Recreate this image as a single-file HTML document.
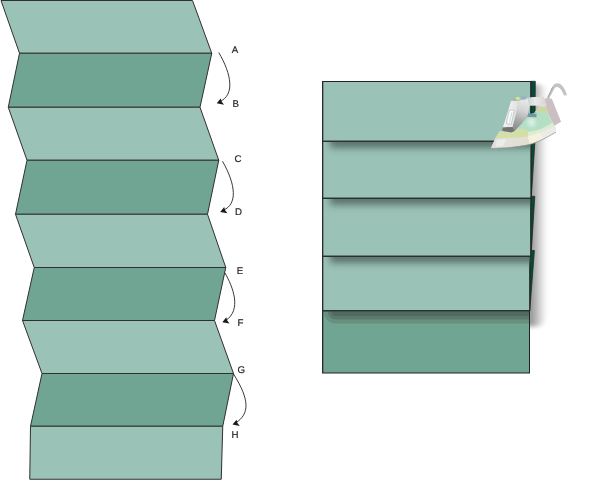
<!DOCTYPE html>
<html><head><meta charset="utf-8">
<style>
html,body{margin:0;padding:0;background:#fff;}
body{width:600px;height:480px;overflow:hidden;font-family:"Liberation Sans",sans-serif;}
svg{display:block;}
text{font-family:"Liberation Sans",sans-serif;font-size:9.7px;fill:#262626;stroke:#262626;stroke-width:0.2px;text-rendering:geometricPrecision;}
</style></head><body>
<svg width="600" height="480" viewBox="0 0 600 480">
<defs>
<linearGradient id="fs" x1="0" y1="0" x2="0" y2="1">
<stop offset="0" stop-color="#4f6b62" stop-opacity="0.85"/>
<stop offset="0.35" stop-color="#5d7f74" stop-opacity="0.55"/>
<stop offset="1" stop-color="#9bc2b7" stop-opacity="0"/>
</linearGradient>
<linearGradient id="fs2" x1="0" y1="0" x2="0" y2="1">
<stop offset="0" stop-color="#4a5f58" stop-opacity="0.9"/>
<stop offset="0.6" stop-color="#55706a" stop-opacity="0.7"/>
<stop offset="1" stop-color="#71a593" stop-opacity="0"/>
</linearGradient>
<linearGradient id="ss" gradientUnits="userSpaceOnUse" x1="531" y1="0" x2="548.5" y2="0">
<stop offset="0" stop-color="#979797"/>
<stop offset="0.25" stop-color="#b4b4b4"/>
<stop offset="0.55" stop-color="#d9d9d9"/>
<stop offset="0.8" stop-color="#f4f4f4"/>
<stop offset="1" stop-color="#ffffff"/>
</linearGradient>
<filter id="blur1" x="-20%" y="-20%" width="140%" height="140%"><feGaussianBlur stdDeviation="1.2"/></filter>
<filter id="blurF" x="-10%" y="-100%" width="120%" height="300%"><feGaussianBlur stdDeviation="3.5"/></filter>
<filter id="blurS" x="-100%" y="-10%" width="300%" height="120%"><feGaussianBlur stdDeviation="2.2"/></filter>
<clipPath id="cp2"><rect x="323.4" y="141.8" width="206.8" height="30"/></clipPath>
<clipPath id="cp3"><rect x="323.4" y="198.8" width="206.8" height="30"/></clipPath>
<clipPath id="cp4"><rect x="323.4" y="256.8" width="206.8" height="30"/></clipPath>
<clipPath id="cp5"><rect x="323.5" y="311.3" width="205.5" height="40"/></clipPath>
<filter id="blurB"><feGaussianBlur stdDeviation="0.5"/></filter>
<radialGradient id="irHi"><stop offset="0" stop-color="#e4f3e6" stop-opacity="1"/><stop offset="0.5" stop-color="#cfeadb" stop-opacity="0.7"/><stop offset="1" stop-color="#b4dfc5" stop-opacity="0"/></radialGradient>
<linearGradient id="irBar" x1="0" y1="0" x2="1" y2="0"><stop offset="0" stop-color="#d0d0d0"/><stop offset="0.4" stop-color="#e9e9e9"/><stop offset="1" stop-color="#d9d3d3"/></linearGradient>
<linearGradient id="irCol" gradientUnits="userSpaceOnUse" x1="250" y1="130" x2="180" y2="330"><stop offset="0" stop-color="#e9e9e9"/><stop offset="0.35" stop-color="#d4d4d4"/><stop offset="0.75" stop-color="#a2a2a2"/><stop offset="1" stop-color="#8c8c8c"/></linearGradient>
<linearGradient id="irFace" gradientUnits="userSpaceOnUse" x1="110" y1="220" x2="200" y2="235"><stop offset="0" stop-color="#f4f4f4"/><stop offset="1" stop-color="#dedede"/></linearGradient>
</defs>

<!-- LEFT ZIGZAG -->
<g stroke="#303030" stroke-width="1" stroke-linejoin="miter">
<polygon points="1,0.5 192.5,0.5 211.75,53.25 19.5,53.25" fill="#9bc2b7"/>
<polygon points="19.5,53.25 211.75,53.25 200,107.25 8.25,107.25" fill="#71a593"/>
<polygon points="8.25,107.25 200,107.25 218.75,160.25 27,160.25" fill="#9bc2b7"/>
<polygon points="27,160.25 218.75,160.25 207.5,214.25 15.5,214.25" fill="#71a593"/>
<polygon points="15.5,214.25 207.5,214.25 225.75,267.5 34.25,267.5" fill="#9bc2b7"/>
<polygon points="34.25,267.5 225.75,267.5 214.5,320.5 22.5,320.5" fill="#71a593"/>
<polygon points="22.5,320.5 214.5,320.5 233.5,373.5 42,373.5" fill="#9bc2b7"/>
<polygon points="42,373.5 233.5,373.5 222.75,426.25 30.5,426.25" fill="#71a593"/>
<polygon points="30.5,426.25 222.75,426.25 221.25,479.25 29.75,479.25" fill="#9bc2b7"/>
</g>

<!-- arrows -->
<g fill="none" stroke="#222" stroke-width="0.9">
<path d="M218.75,52.5 C232,75 234.5,95 220,101.5"/>
<path d="M222.5,161.25 C236,185 237.5,204 223.5,210.2"/>
<path d="M225,273 C233,287 242,310 225.5,320.6"/>
<path d="M233.5,374 C250,400 249.5,414 235.8,422.8"/>
</g>
<g fill="#1a1a1a">
<polygon points="216.7,103.3 220.7,98.4 221.6,101.6 224.0,104.7"/>
<polygon points="220.2,211.9 224.2,207.0 225.1,210.2 227.5,213.3"/>
<polygon points="222.3,322.2 226.3,317.3 227.2,320.5 229.6,323.6"/>
<polygon points="232.5,424.6 236.5,419.7 237.4,422.9 239.8,426.0"/>
</g>
<g id="lbl" style="opacity:.999">
<text x="231.8" y="53.2">A</text>
<text x="232.5" y="107.3">B</text>
<text x="234.5" y="162.3">C</text>
<text x="235" y="214.7">D</text>
<text x="236.7" y="273.6">E</text>
<text x="237.5" y="326">F</text>
<text x="237.5" y="372.7">G</text>
<text x="231.5" y="438.2">H</text>
</g>

<!-- RIGHT STACK -->
<!-- side shadow -->
<g filter="url(#blurS)">
<path d="M527,84.5 H538 C545,85 550.5,91 550.5,101 L550,150 L549,200 L548.5,256 L548,310 C548,320 543,326.5 536,326.5 H527 Z" fill="url(#ss)"/>
</g>
<!-- dark slivers -->
<g fill="#0c4838" stroke="#15251f" stroke-width="0.7" stroke-linejoin="miter">
<polygon points="530.7,81.3 535.3,81.3 534.9,142 531.4,196 530.7,198.5"/>
<polygon points="530.6,196.3 534.8,196.3 531.3,252 530.6,256.5"/>
<polygon points="529.7,250.5 534.4,250.5 530.6,300 529.7,311"/>
</g>
<!-- bottom dark panel -->
<rect x="322.5" y="310.75" width="207" height="62.25" fill="#71a593" stroke="#222" stroke-width="1"/>
<g filter="url(#blurB)" clip-path="url(#cp5)"><path d="M323.7,311.3 A12.3,12.3 0 0 0 336,323.6 H529 V311.3 Z" fill="#68907f"/><path d="M327.7,311.3 A8.3,8.3 0 0 0 336,319.6 H529 V311.3 Z" fill="#5c796e"/><path d="M331.2,311.3 A4.8,4.8 0 0 0 336,316.1 H529 V311.3 Z" fill="#506a61"/></g>
<!-- light panels -->
<g stroke="#222" stroke-width="1" fill="#9bc2b7">
<rect x="322.5" y="256.25" width="207.2" height="54.5"/>
<rect x="322.5" y="198.25" width="208.2" height="58"/>
<rect x="322.5" y="141.25" width="208.4" height="57"/>
<rect x="322.5" y="81.5" width="208.2" height="59.75"/>
</g>
<!-- fold shadows -->
<g clip-path="url(#cp2)"><rect x="330" y="130" width="217" height="18" fill="#536c63" opacity="0.9" filter="url(#blurF)"/></g>
<g clip-path="url(#cp3)"><rect x="330" y="187" width="217" height="18" fill="#536c63" opacity="0.9" filter="url(#blurF)"/></g>
<g clip-path="url(#cp4)"><rect x="330" y="245" width="217" height="18" fill="#536c63" opacity="0.9" filter="url(#blurF)"/></g>
<g stroke="#2c2c2c" stroke-width="1.1" fill="none">
<path d="M322.5,141.25H531M322.5,198.25H530.8M322.5,256.25H530.6M322.5,310.75H529.8"/>
<path d="M322.7,81 V373" stroke-width="1.25"/>
</g>

<!-- IRON -->
<path d="M547.1,97.9 L552.4,86.6 C554,83.4 557,82.5 559.6,83.7 C563,85.4 565.6,90 567,95.2 L563.9,95.6 C562.5,91 560.5,88.3 558,87.3 C556,86.6 554.8,87.7 553.8,89.7 L549.2,98.3 Z" fill="#c3c3c3"/>
<path d="M547.6,97.9 L552.6,87.4" stroke="#9a9a9a" stroke-width="0.8" fill="none"/>
<g id="iron" transform="translate(488,80) scale(0.150094)">
<!-- upper yellow-green -->
<polygon points="305,218 345,180 388,172 400,225 335,214" fill="#ccd8a3"/>
<!-- back rest -->
<polygon points="365,128 405,118 426,126 487,278 440,307 400,225 386,168" fill="#cbbfc1"/>
<!-- tank -->
<polygon points="262,250 300,222 335,212 398,222 440,306 436,322 264,380 48,390 76,341 165,345 205,305" fill="#b4dfc5"/>
<path d="M264,345 C300,345 390,320 430,280 L440,306 L436,322 L300,368 L264,376 Z" fill="#dcebd3"/>
<polygon points="76,341 165,350 178,340 215,322 264,333 264,377 160,386 48,390" fill="#d3dfa6"/>
<circle cx="290" cy="282" r="52" fill="url(#irHi)"/>
<polygon points="266,222 323,225 323,249 262,246" fill="#6f9ba8"/>
<!-- soleplate -->
<path d="M20,455 L48,389 L160,385 L264,377 L344,349 L436,309 L448,298 L453,347 C410,370 360,402 300,422 C230,445 120,452 20,455 Z" fill="#e3dfd5"/>
<path d="M264,377 L344,349 L372,386 C340,402 310,418 280,428 Z" fill="#f4f1dc"/>
<path d="M20,455 L48,389 L160,385 L168,447 C120,452 60,454 20,455 Z" fill="#e2e0da"/>
<path d="M60,400 L120,394 L100,440 L50,446 Z" fill="#f0efec" opacity="0.8"/>
<path d="M344,349 L436,309 L448,298 L453,347 C430,360 400,375 372,386 Z" fill="#ebebe8"/>
<path d="M20,456 C120,453 230,446 300,423 C360,403 410,371 453,348" fill="none" stroke="#979797" stroke-width="5"/>
<!-- handle -->
<polygon points="262,118 300,113 372,112 392,170 277,172" fill="url(#irBar)"/>
<polygon points="206,138 262,118 277,170 265,232 225,290 177,340 163,313 185,230" fill="url(#irCol)"/>
<polygon points="154,138 206,138 185,230 163,313 99,316 120,250 140,185" fill="url(#irFace)"/>
<polygon points="99,316 163,313 178,340 154,349 95,338" fill="#727272"/>
<polygon points="142,199 175,202 155,296 122,290" fill="#fbfbfb" stroke="#bdbdbd" stroke-width="5"/>
<path d="M160,215 L143,285" stroke="#9fc6b8" stroke-width="4" fill="none"/>
<ellipse cx="198" cy="124" rx="18" ry="13" fill="#c9d48e"/><ellipse cx="200" cy="121" rx="8" ry="6" fill="#e6eab0"/>
<ellipse cx="238" cy="118" rx="20" ry="13" fill="#90b6c0"/>
<ellipse cx="178" cy="133" rx="9" ry="6" fill="#a9a99c"/>
</g>
</svg>
</body></html>
